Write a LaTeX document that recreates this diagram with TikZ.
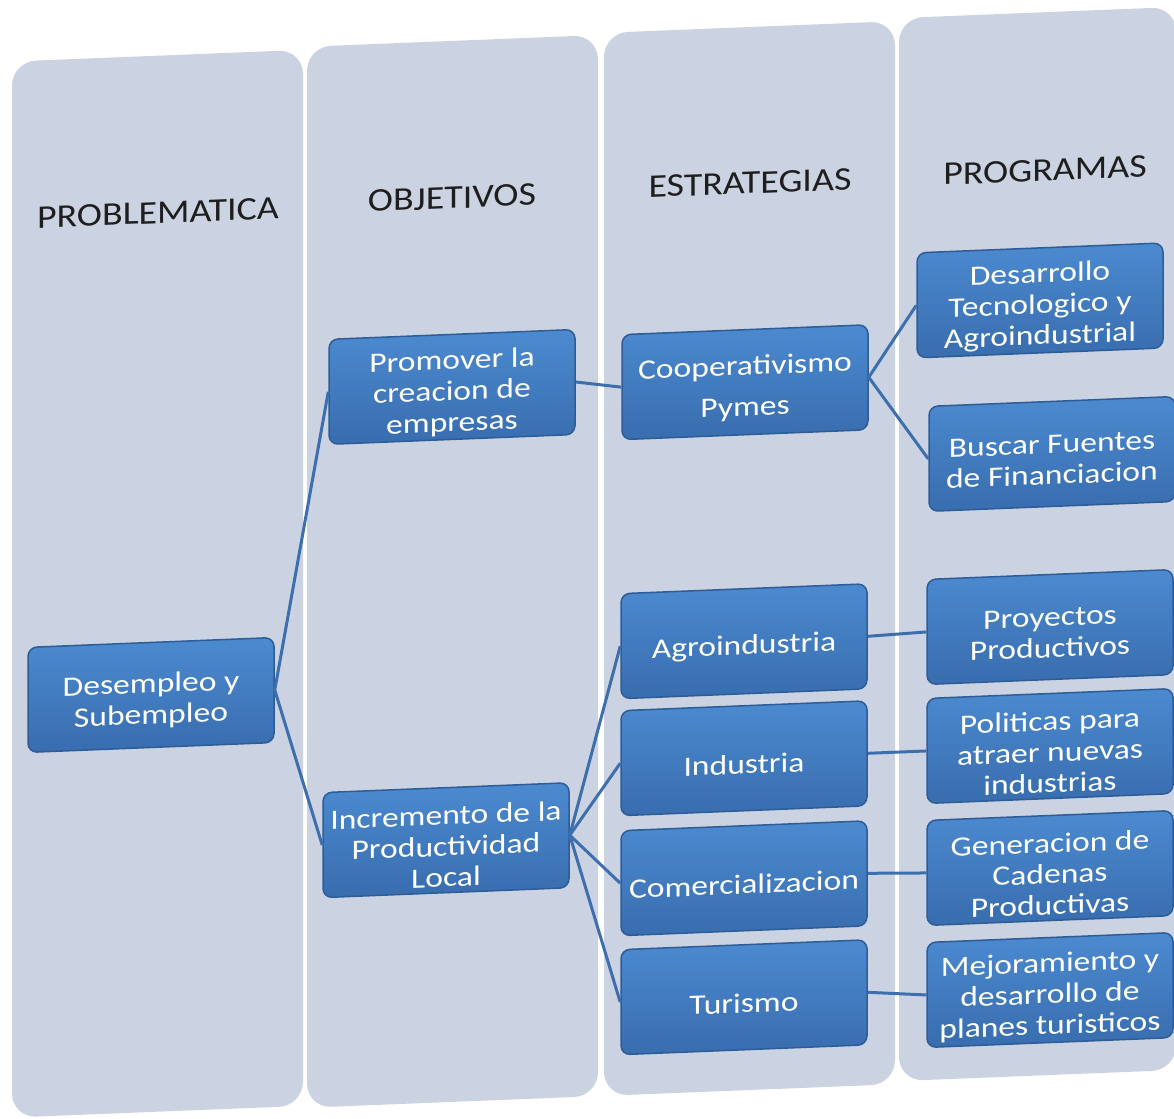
\documentclass[tikz,border=0pt]{standalone}
\usepackage{fontspec}
\setmainfont{Carlito}[FakeStretch=1.2]
\newfontfamily\hdrfont{Carlito}[FakeStretch=1.15]
\definecolor{colfill}{HTML}{CBD3E2}
\definecolor{boxtop}{HTML}{4C8AD0}
\definecolor{boxbot}{HTML}{386DAE}
\definecolor{boxedge}{HTML}{2D5C96}
\definecolor{boxrim}{HTML}{6FA3DE}
\definecolor{linkc}{HTML}{3D6FAE}
\definecolor{hdrc}{HTML}{1E1E1E}
\newcommand\bluenode[4]{%
  \node[bluebox] (#1) at (#2,#3) {};
  \node[btext] (#1t) at ([yshift=-6pt]#1.center) {#4};}
\begin{document}
\begin{tikzpicture}[x=1pt,y=-1pt,
  colbox/.style={fill=colfill, rounded corners=24},
  hdr/.style={text=hdrc, inner sep=0, font=\hdrfont\fontsize{33}{36}\selectfont},
  bluebox/.style={draw=boxedge, line width=1.5, top color=boxtop, bottom color=boxbot,
    rounded corners=9, minimum width=246, minimum height=105, inner sep=0},
  btext/.style={align=center, text=white, inner sep=0, font=\fontsize{28}{31}\selectfont},
  link/.style={draw=linkc, line width=3}]
\useasboundingbox (0,0) rectangle (1174,1118);
\begin{scope}[yslant=0.04, transform shape]
  % columns
  \path[colbox] (12,62) rectangle (303,1118);
  \path[colbox] (307,59) rectangle (598,1120);
  \path[colbox] (604,57) rectangle (895,1120);
  \path[colbox] (899,54) rectangle (1176,1117);
  % headers
  \node[hdr] (h1) at (158,219) {PROBLEMATICA};
  \node[hdr] (h2) at (452,216) {OBJETIVOS};
  \node[hdr] (h3) at (750,213) {ESTRATEGIAS};
  \node[hdr] (h4) at (1045,212) {PROGRAMAS};
  % boxes
  \bluenode{p1}{151}{701}{Desempleo y\\Subempleo}
  \bluenode{o1}{452}{405}{Promover la\\creacion de\\empresas}
  \bluenode{o2}{446}{858}{Incremento de la\\Productividad\\Local}
  \bluenode{e1}{745}{412}{Cooperativismo\\[10pt]Pymes}
  \bluenode{e2}{744}{671}{Agroindustria}
  \bluenode{e3}{744}{788}{Industria}
  \bluenode{e4}{744}{908}{Comercializacion}
  \bluenode{e5}{744}{1027}{Turismo}
  \bluenode{g1}{1040}{342}{Desarrollo\\Tecnologico y\\Agroindustrial}
  \bluenode{g2}{1052}{496}{Buscar Fuentes\\de Financiacion}
  \bluenode{g3}{1050}{669}{Proyectos\\Productivos}
  \bluenode{g4}{1050}{788}{Politicas para\\atraer nuevas\\industrias}
  \bluenode{g5}{1050}{910}{Generacion de\\Cadenas\\Productivas}
  \bluenode{g6}{1050}{1032}{Mejoramiento y\\desarrollo de\\planes turisticos}
  % connectors
  \draw[link] (p1.east) -- (o1.west);
  \draw[link] (p1.east) -- (o2.west);
  \draw[link] (o1.east) -- (e1.west);
  \draw[link] (e1.east) -- (g1.west);
  \draw[link] (e1.east) -- (g2.west);
  \draw[link] (o2.east) -- (e2.west);
  \draw[link] (o2.east) -- (e3.west);
  \draw[link] (o2.east) -- (e4.west);
  \draw[link] (o2.east) -- (e5.west);
  \draw[link] (e2.east) -- (g3.west);
  \draw[link] (e3.east) -- (g4.west);
  \draw[link] (e4.east) -- (g5.west);
  \draw[link] (e5.east) -- (g6.west);
\end{scope}
\end{tikzpicture}
\end{document}
